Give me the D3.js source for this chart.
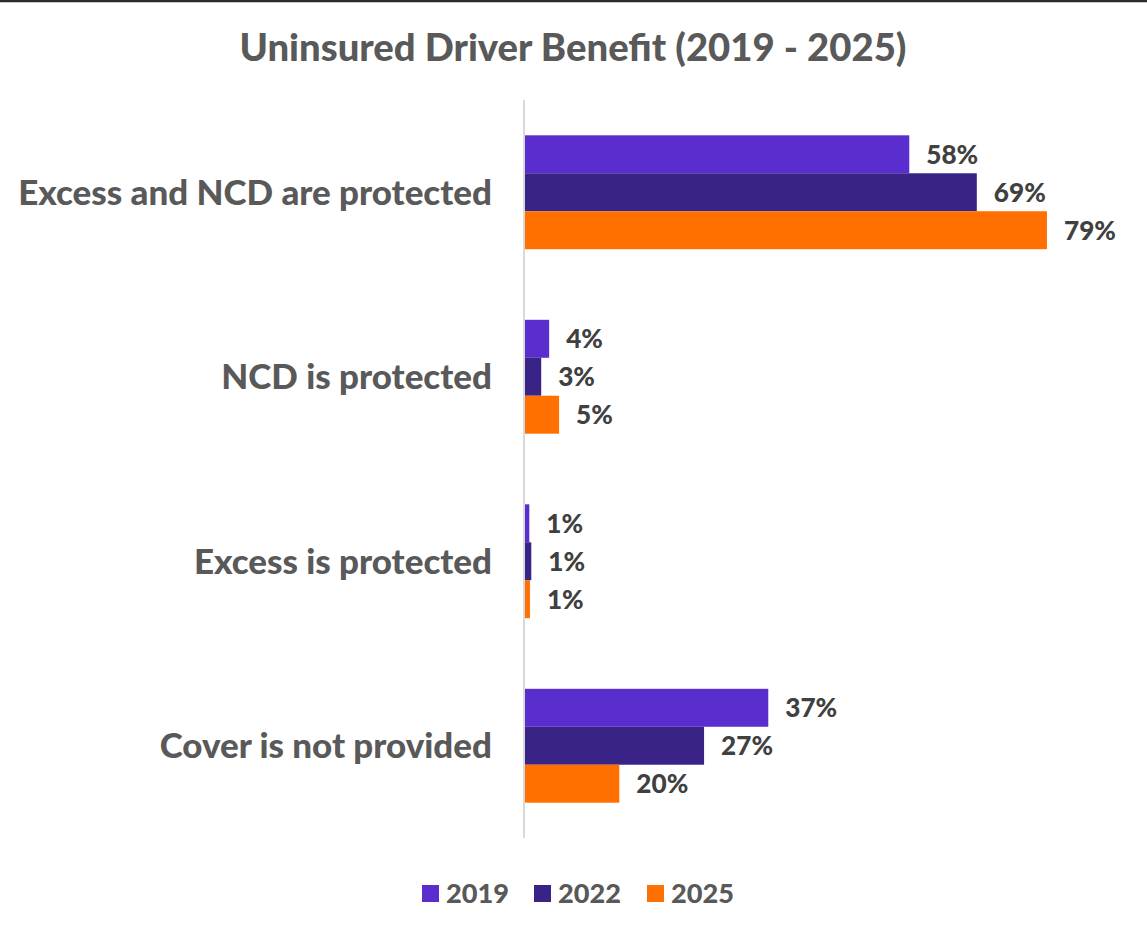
<!DOCTYPE html>
<html><head><meta charset="utf-8">
<script src="https://cdn.jsdelivr.net/npm/d3@7"></script>
<style>
html,body{margin:0;padding:0;background:#fff;}
text{font-family:Lato,"DejaVu Sans",sans-serif;font-weight:700;}
</style></head>
<body>
<svg id="chart" width="1147" height="934"></svg>
<script>
const title = "Uninsured Driver Benefit (2019 - 2025)";
const categories = ["Excess and NCD are protected", "NCD is protected", "Excess is protected", "Cover is not provided"];
const seriesNames = ["2019", "2022", "2025"];
// bar lengths as drawn in the reference (percent)
const values2019 = [58.2, 3.8, 0.8, 36.9];
const values2022 = [68.4, 2.6, 1.1, 27.2];
const values2025 = [79, 5.3, 0.9, 14.4];
// data labels as printed in the reference
const labels2019 = ["58%", "4%", "1%", "37%"];
const labels2022 = ["69%", "3%", "1%", "27%"];
const labels2025 = ["79%", "5%", "1%", "20%"];
const colors = ["#5a2ece", "#3a2387", "#ff7000"];

const series = [
  {name: seriesNames[0], values: values2019, labels: labels2019, color: colors[0]},
  {name: seriesNames[1], values: values2022, labels: labels2022, color: colors[1]},
  {name: seriesNames[2], values: values2025, labels: labels2025, color: colors[2]}
];

const svg = d3.select("#chart");
const W = 1147, H = 934;
const plot = {left: 524, top: 100, bottom: 838};

function fitWidth(sel, target) {
  sel.each(function(){
    const fs = parseFloat(this.getAttribute("font-size"));
    const w = this.getComputedTextLength();
    if (w > 0) this.setAttribute("font-size", (fs * target / w).toFixed(2));
  });
}

// top border
svg.append("line").attr("x1", 0).attr("x2", W).attr("y1", 1).attr("y2", 1)
  .attr("stroke", "#2b2b2b").attr("stroke-width", 2.5);

// title
const t = svg.append("text").attr("x", 573).attr("y", 61).attr("text-anchor", "middle")
  .attr("font-size", 36).attr("fill", "#595959").style("font-weight", 900).text(title);
fitWidth(t, 667);

const x = d3.scaleLinear().domain([0, 90]).range([plot.left, plot.left + 90 * 6.62]);
const y0 = d3.scaleBand().domain(categories).range([plot.top, plot.bottom]).paddingInner(0).paddingOuter(0);
const y1 = d3.scaleBand().domain(seriesNames).range([0, y0.bandwidth()]).paddingInner(0).paddingOuter(0.93);

const groups = svg.append("g").selectAll("g").data(categories).join("g")
  .attr("transform", d => `translate(0,${y0(d)})`);

groups.selectAll("rect").data((c, i) => series.map(s => ({s, v: s.values[i], l: s.labels[i]})))
  .join("rect")
  .attr("x", x(0))
  .attr("y", d => y1(d.s.name))
  .attr("width", d => x(d.v) - x(0))
  .attr("height", y1.bandwidth())
  .attr("fill", d => d.s.color);

const dl = groups.selectAll("text.dl").data((c, i) => series.map(s => ({s, v: s.values[i], l: s.labels[i]})))
  .join("text").attr("class", "dl")
  .attr("x", d => x(d.v) + 17)
  .attr("y", d => y1(d.s.name) + y1.bandwidth() / 2)
  .attr("dy", "0.36em")
  .attr("font-size", 22)
  .attr("fill", "#404040")
  .style("font-weight", 900)
  .text(d => d.l);

// axis line
svg.append("line").attr("x1", plot.left).attr("x2", plot.left).attr("y1", plot.top).attr("y2", plot.bottom)
  .attr("stroke", "#d9d9d9").attr("stroke-width", 2);

// category labels
const cl = svg.append("g").selectAll("text").data(categories).join("text")
  .attr("x", 492)
  .attr("y", d => y0(d) + y0.bandwidth() / 2)
  .attr("dy", "0.36em")
  .attr("text-anchor", "end")
  .attr("font-size", 28)
  .attr("fill", "#595959")
  .style("font-weight", 900)
  .text(d => d);
(function(){
  let maxW = 0; cl.each(function(){ maxW = Math.max(maxW, this.getComputedTextLength()); });
  const fs = 28 * 474 / maxW; cl.attr("font-size", fs.toFixed(2));
})();
(function(){
  const n = dl.nodes().find(n => n.textContent === "58%");
  const fs = 22 * 52 / n.getComputedTextLength(); dl.attr("font-size", fs.toFixed(2));
})();

// legend
const legendX = [422, 534, 647];
const lg = svg.append("g").selectAll("g").data(series).join("g")
  .attr("transform", (d, i) => `translate(${legendX[i]},885)`);
lg.append("rect").attr("width", 17).attr("height", 17).attr("fill", d => d.color);
const lt = lg.append("text").attr("x", 24).attr("y", 8.5).attr("dy", "0.36em")
  .attr("font-size", 24).attr("fill", "#595959").style("font-weight", 900).text(d => d.name);
(function(){
  const n = lt.node(); const fs = 24 * 63 / n.getComputedTextLength(); lt.attr("font-size", fs.toFixed(2));
})();
</script>
</body></html>
